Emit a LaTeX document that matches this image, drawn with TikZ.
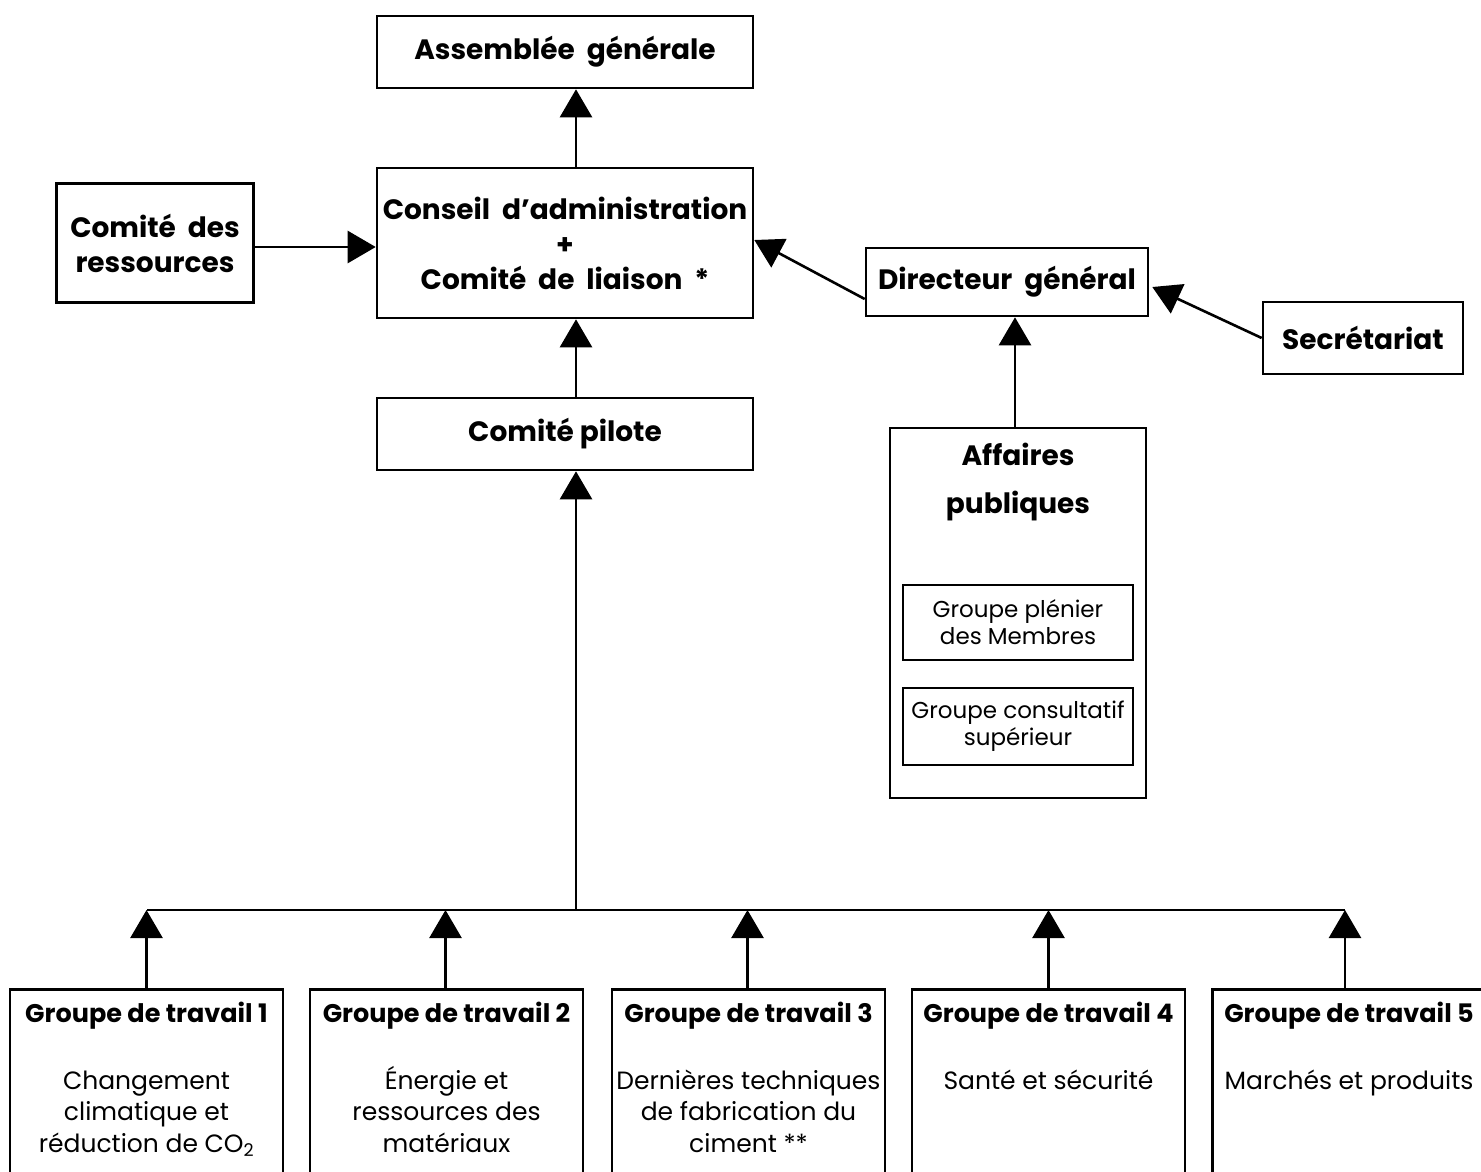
\documentclass[tikz,border=0pt]{standalone}
\usepackage{fontspec}
\setmainfont{Poppins}
\usetikzlibrary{arrows.meta,positioning}
\tikzset{
  box/.style={draw, line width=2.6pt, align=center, inner sep=0pt,
    font=\bfseries\fontsize{28}{35}\selectfont},
  subbox/.style={draw, line width=2pt, align=center, inner sep=0pt,
    minimum width=230pt, font=\fontsize{23}{27}\selectfont},
  wgbox/.style={draw, line width=2.6pt, anchor=north, minimum width=273pt, minimum height=240pt},
  wgtitle/.style={font=\bfseries\fontsize{25.5}{30}\selectfont, inner sep=0pt},
  wgbody/.style={align=center, anchor=north, inner sep=0pt, font=\fontsize{25}{31.5}\selectfont},
  link/.style={line width=2.6pt, -{Triangle[width=32pt,length=28pt]}}
}
\begin{document}
\begin{tikzpicture}[x=1pt,y=-1pt]
\useasboundingbox (0,0) rectangle (1481,1171);
\clip (0,0) rectangle (1481,1171);
% Top of the tree
\node[box, minimum width=376pt, minimum height=72pt] (ag) at (565,52) {Assembl\'ee\ \ g\'en\'erale};
\node[box, minimum width=376pt, minimum height=150pt] (cda) at (565,243)
  {Conseil\ \ d’administration\\+\\Comit\'e\ \ de\ \ liaison\ \ *};
\node[box, minimum width=197pt, minimum height=119pt] (res) at (155,243) {Comit\'e\ \ des\\ressources};
\node[box, minimum width=376pt, minimum height=72pt] (pilot) at (565,434) {Comit\'e pilote};
% Right side
\node[box, minimum width=282pt, minimum height=68pt] (dg) at (1007,282) {Directeur\ \ g\'en\'eral};
\node[box, minimum width=200pt, minimum height=72pt] (sec) at (1363,338) {Secr\'etariat};
\node[draw, line width=2.6pt, minimum width=256pt, minimum height=370pt] (aff) at (1018,613) {};
\node[box, draw=none, font=\bfseries\fontsize{28}{48}\selectfont] (afftxt) at (1018,482) {Affaires\\publiques};
\node[subbox, minimum height=75pt] (plen) at (1018,622) {Groupe pl\'enier\\des Membres};
\node[subbox, minimum height=77pt] (cons) at (1018,726) {Groupe consultatif\\sup\'erieur};
% Arrows
\draw[link] ([xshift=11pt]cda.north) -- ([xshift=11pt]ag.south);
\draw[link] (res.east |- 0,247) -- (cda.west |- 0,247);
\draw[link] ([xshift=11pt]pilot.north) -- ([xshift=11pt]cda.south);
\draw[link] ([yshift=-17pt]dg.west) -- ([yshift=3pt]cda.east);
\draw[link] (sec.west) -- ([xshift=3pt,yshift=-5pt]dg.east);
\draw[link] ([xshift=-3pt]aff.north) -- ([xshift=8pt]dg.south);
% Working groups
\coordinate (bus) at (576,910);
\draw[link] (bus) -- ([xshift=11pt]pilot.south);
\draw[line width=2.6pt] (147,910) -- (1345,910);
\foreach \i/\x/\dx/\txt in {1/146.5/0/{Changement\\climatique et\\r\'eduction de CO\textsubscript{2}},
    2/446.5/-1/{\'Energie et\\ressources des\\mat\'eriaux},
    3/748.5/-1/{Derni\`eres techniques\\de fabrication du\\ciment **},
    4/1048.5/0/{Sant\'e et s\'ecurit\'e},
    5/1349/-4/{March\'es et produits}} {
  \node[wgbox] (wg\i) at (\x,988) {};
  \node[wgtitle] (wgt\i) at (\x,1016) {Groupe de travail \i};
  \node[wgbody] (wgb\i) at (\x,1066) {\vphantom{\'E}\txt};
  \draw[link] ([xshift=\dx pt]wg\i.north) -- ([xshift=\dx pt]wg\i.north |- bus);
}
\end{tikzpicture}
\end{document}
